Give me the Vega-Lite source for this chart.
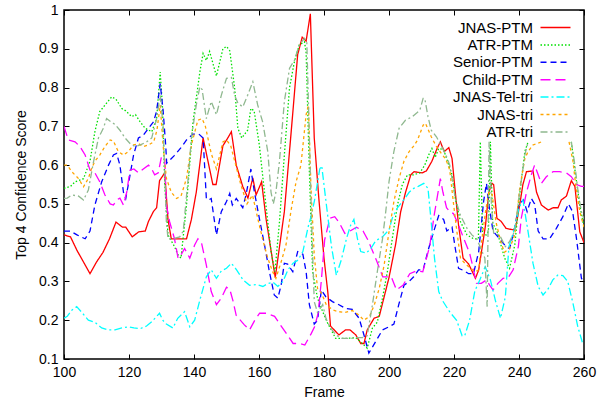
{
  "$schema": "https://vega.github.io/schema/vega-lite/v6.json",
  "width": 520,
  "height": 349,
  "autosize": "none",
  "padding": {"left": 64, "top": 10, "right": 14, "bottom": 45},
  "background": "white",
  "config": {
    "view": {"stroke": "black", "strokeWidth": 1.5},
    "font": "Liberation Sans",
    "axis": {"grid": false, "domain": false, "tickColor": "black", "tickSize": -5, "tickWidth": 1, "labelFlush": false, "labelOverlap": false, "labelFont": "Liberation Sans", "labelFontSize": 14, "labelColor": "black", "titleFont": "Liberation Sans", "titleFontSize": 14, "titleFontWeight": "normal", "titleColor": "black"}
  },
  "data": {"values": [
    {"s":"JNAS-PTM","f":100,"v":0.42},{"s":"JNAS-PTM","f":102,"v":0.415},{"s":"JNAS-PTM","f":104,"v":0.38},{"s":"JNAS-PTM","f":106,"v":0.35},{"s":"JNAS-PTM","f":108,"v":0.32},{"s":"JNAS-PTM","f":110,"v":0.35},{"s":"JNAS-PTM","f":112,"v":0.375},{"s":"JNAS-PTM","f":114,"v":0.41},{"s":"JNAS-PTM","f":116,"v":0.453},{"s":"JNAS-PTM","f":118,"v":0.44},{"s":"JNAS-PTM","f":119,"v":0.44},{"s":"JNAS-PTM","f":121,"v":0.415},{"s":"JNAS-PTM","f":123,"v":0.428},{"s":"JNAS-PTM","f":125,"v":0.43},{"s":"JNAS-PTM","f":126,"v":0.455},{"s":"JNAS-PTM","f":127.5,"v":0.48},{"s":"JNAS-PTM","f":128.5,"v":0.49},{"s":"JNAS-PTM","f":129.4,"v":0.56},{"s":"JNAS-PTM","f":131,"v":0.58},{"s":"JNAS-PTM","f":132,"v":0.46},{"s":"JNAS-PTM","f":133,"v":0.41},{"s":"JNAS-PTM","f":137.7,"v":0.41},{"s":"JNAS-PTM","f":139.2,"v":0.46},{"s":"JNAS-PTM","f":140.7,"v":0.53},{"s":"JNAS-PTM","f":142.8,"v":0.67},{"s":"JNAS-PTM","f":144.3,"v":0.61},{"s":"JNAS-PTM","f":145.8,"v":0.55},{"s":"JNAS-PTM","f":146.8,"v":0.55},{"s":"JNAS-PTM","f":148.9,"v":0.65},{"s":"JNAS-PTM","f":150.4,"v":0.67},{"s":"JNAS-PTM","f":151.5,"v":0.686},{"s":"JNAS-PTM","f":153,"v":0.6},{"s":"JNAS-PTM","f":155,"v":0.545},{"s":"JNAS-PTM","f":156.6,"v":0.515},{"s":"JNAS-PTM","f":158.1,"v":0.567},{"s":"JNAS-PTM","f":159.1,"v":0.523},{"s":"JNAS-PTM","f":160.8,"v":0.557},{"s":"JNAS-PTM","f":162.2,"v":0.46},{"s":"JNAS-PTM","f":165,"v":0.31},{"s":"JNAS-PTM","f":167.8,"v":0.48},{"s":"JNAS-PTM","f":170.3,"v":0.725},{"s":"JNAS-PTM","f":171.9,"v":0.885},{"s":"JNAS-PTM","f":173.3,"v":0.93},{"s":"JNAS-PTM","f":174.5,"v":0.92},{"s":"JNAS-PTM","f":175.8,"v":0.99},{"s":"JNAS-PTM","f":177,"v":0.67},{"s":"JNAS-PTM","f":178.4,"v":0.515},{"s":"JNAS-PTM","f":180,"v":0.36},{"s":"JNAS-PTM","f":181.2,"v":0.27},{"s":"JNAS-PTM","f":182,"v":0.185},{"s":"JNAS-PTM","f":184.6,"v":0.162},{"s":"JNAS-PTM","f":186.6,"v":0.175},{"s":"JNAS-PTM","f":188,"v":0.175},{"s":"JNAS-PTM","f":189.8,"v":0.162},{"s":"JNAS-PTM","f":191.3,"v":0.14},{"s":"JNAS-PTM","f":192.3,"v":0.14},{"s":"JNAS-PTM","f":193.3,"v":0.175},{"s":"JNAS-PTM","f":195.4,"v":0.205},{"s":"JNAS-PTM","f":197,"v":0.21},{"s":"JNAS-PTM","f":198.5,"v":0.26},{"s":"JNAS-PTM","f":200,"v":0.31},{"s":"JNAS-PTM","f":202,"v":0.394},{"s":"JNAS-PTM","f":203.6,"v":0.48},{"s":"JNAS-PTM","f":205.1,"v":0.53},{"s":"JNAS-PTM","f":206.7,"v":0.575},{"s":"JNAS-PTM","f":207.7,"v":0.583},{"s":"JNAS-PTM","f":210.2,"v":0.58},{"s":"JNAS-PTM","f":211.5,"v":0.585},{"s":"JNAS-PTM","f":213.2,"v":0.61},{"s":"JNAS-PTM","f":214.8,"v":0.643},{"s":"JNAS-PTM","f":215.8,"v":0.66},{"s":"JNAS-PTM","f":217,"v":0.635},{"s":"JNAS-PTM","f":218.4,"v":0.645},{"s":"JNAS-PTM","f":219.4,"v":0.617},{"s":"JNAS-PTM","f":220.4,"v":0.53},{"s":"JNAS-PTM","f":221.4,"v":0.445},{"s":"JNAS-PTM","f":222.8,"v":0.36},{"s":"JNAS-PTM","f":224.5,"v":0.345},{"s":"JNAS-PTM","f":226.6,"v":0.308},{"s":"JNAS-PTM","f":227.6,"v":0.33},{"s":"JNAS-PTM","f":229.7,"v":0.445},{"s":"JNAS-PTM","f":230.7,"v":0.53},{"s":"JNAS-PTM","f":231.7,"v":0.553},{"s":"JNAS-PTM","f":232.2,"v":0.55},{"s":"JNAS-PTM","f":233.2,"v":0.463},{"s":"JNAS-PTM","f":234.5,"v":0.455},{"s":"JNAS-PTM","f":236,"v":0.437},{"s":"JNAS-PTM","f":238.2,"v":0.433},{"s":"JNAS-PTM","f":239,"v":0.44},{"s":"JNAS-PTM","f":240.2,"v":0.497},{"s":"JNAS-PTM","f":241.2,"v":0.55},{"s":"JNAS-PTM","f":242.3,"v":0.583},{"s":"JNAS-PTM","f":244.3,"v":0.585},{"s":"JNAS-PTM","f":245.4,"v":0.53},{"s":"JNAS-PTM","f":246.9,"v":0.497},{"s":"JNAS-PTM","f":249,"v":0.484},{"s":"JNAS-PTM","f":250.5,"v":0.49},{"s":"JNAS-PTM","f":252,"v":0.49},{"s":"JNAS-PTM","f":253,"v":0.51},{"s":"JNAS-PTM","f":254.6,"v":0.52},{"s":"JNAS-PTM","f":256.1,"v":0.56},{"s":"JNAS-PTM","f":257.2,"v":0.545},{"s":"JNAS-PTM","f":258.7,"v":0.428},{"s":"JNAS-PTM","f":260,"v":0.4},

    {"s":"ATR-PTM","f":100,"v":0.54},{"s":"ATR-PTM","f":102,"v":0.545},{"s":"ATR-PTM","f":103.4,"v":0.557},{"s":"ATR-PTM","f":106,"v":0.565},{"s":"ATR-PTM","f":108,"v":0.61},{"s":"ATR-PTM","f":109.5,"v":0.686},{"s":"ATR-PTM","f":111,"v":0.738},{"s":"ATR-PTM","f":113.1,"v":0.76},{"s":"ATR-PTM","f":114.7,"v":0.776},{"s":"ATR-PTM","f":116,"v":0.77},{"s":"ATR-PTM","f":117.8,"v":0.746},{"s":"ATR-PTM","f":119,"v":0.74},{"s":"ATR-PTM","f":120.8,"v":0.725},{"s":"ATR-PTM","f":122,"v":0.73},{"s":"ATR-PTM","f":123.4,"v":0.712},{"s":"ATR-PTM","f":125,"v":0.695},{"s":"ATR-PTM","f":127,"v":0.686},{"s":"ATR-PTM","f":128.5,"v":0.72},{"s":"ATR-PTM","f":129.6,"v":0.84},{"s":"ATR-PTM","f":130.3,"v":0.75},{"s":"ATR-PTM","f":131,"v":0.55},{"s":"ATR-PTM","f":132,"v":0.42},{"s":"ATR-PTM","f":134,"v":0.39},{"s":"ATR-PTM","f":135,"v":0.37},{"s":"ATR-PTM","f":136,"v":0.36},{"s":"ATR-PTM","f":137.7,"v":0.497},{"s":"ATR-PTM","f":139.7,"v":0.712},{"s":"ATR-PTM","f":141.8,"v":0.84},{"s":"ATR-PTM","f":142.8,"v":0.888},{"s":"ATR-PTM","f":143.8,"v":0.87},{"s":"ATR-PTM","f":144.8,"v":0.893},{"s":"ATR-PTM","f":146.9,"v":0.83},{"s":"ATR-PTM","f":148.9,"v":0.9},{"s":"ATR-PTM","f":150,"v":0.906},{"s":"ATR-PTM","f":151,"v":0.895},{"s":"ATR-PTM","f":152.5,"v":0.8},{"s":"ATR-PTM","f":153.5,"v":0.695},{"s":"ATR-PTM","f":154.7,"v":0.67},{"s":"ATR-PTM","f":156.5,"v":0.69},{"s":"ATR-PTM","f":157.5,"v":0.746},{"s":"ATR-PTM","f":158.5,"v":0.74},{"s":"ATR-PTM","f":160.1,"v":0.652},{"s":"ATR-PTM","f":161.1,"v":0.575},{"s":"ATR-PTM","f":162.7,"v":0.454},{"s":"ATR-PTM","f":163.7,"v":0.377},{"s":"ATR-PTM","f":164.9,"v":0.325},{"s":"ATR-PTM","f":166.3,"v":0.454},{"s":"ATR-PTM","f":167.8,"v":0.626},{"s":"ATR-PTM","f":169.4,"v":0.8},{"s":"ATR-PTM","f":170.9,"v":0.867},{"s":"ATR-PTM","f":172.4,"v":0.91},{"s":"ATR-PTM","f":174,"v":0.918},{"s":"ATR-PTM","f":174.5,"v":0.89},{"s":"ATR-PTM","f":175.5,"v":0.583},{"s":"ATR-PTM","f":176.5,"v":0.325},{"s":"ATR-PTM","f":178,"v":0.257},{"s":"ATR-PTM","f":179.6,"v":0.222},{"s":"ATR-PTM","f":181.1,"v":0.193},{"s":"ATR-PTM","f":183.6,"v":0.153},{"s":"ATR-PTM","f":186.7,"v":0.153},{"s":"ATR-PTM","f":189.8,"v":0.155},{"s":"ATR-PTM","f":191.8,"v":0.14},{"s":"ATR-PTM","f":193.3,"v":0.128},{"s":"ATR-PTM","f":194.9,"v":0.18},{"s":"ATR-PTM","f":196.4,"v":0.195},{"s":"ATR-PTM","f":198,"v":0.257},{"s":"ATR-PTM","f":199.5,"v":0.325},{"s":"ATR-PTM","f":201,"v":0.41},{"s":"ATR-PTM","f":202.6,"v":0.497},{"s":"ATR-PTM","f":204.1,"v":0.55},{"s":"ATR-PTM","f":205.7,"v":0.575},{"s":"ATR-PTM","f":207.6,"v":0.575},{"s":"ATR-PTM","f":209.5,"v":0.58},{"s":"ATR-PTM","f":211,"v":0.6},{"s":"ATR-PTM","f":212.2,"v":0.626},{"s":"ATR-PTM","f":213.2,"v":0.643},{"s":"ATR-PTM","f":214.2,"v":0.62},{"s":"ATR-PTM","f":215.3,"v":0.643},{"s":"ATR-PTM","f":216.8,"v":0.64},{"s":"ATR-PTM","f":218.4,"v":0.6},{"s":"ATR-PTM","f":219.4,"v":0.575},{"s":"ATR-PTM","f":220.4,"v":0.514},{"s":"ATR-PTM","f":222,"v":0.454},{"s":"ATR-PTM","f":224,"v":0.42},{"s":"ATR-PTM","f":226,"v":0.41},{"s":"ATR-PTM","f":227.5,"v":0.41},{"s":"ATR-PTM","f":228.1,"v":0.66},{"s":"ATR-PTM","f":228.8,"v":0.42},{"s":"ATR-PTM","f":230,"v":0.42},{"s":"ATR-PTM","f":230.6,"v":0.43},{"s":"ATR-PTM","f":231.2,"v":0.66},{"s":"ATR-PTM","f":231.9,"v":0.45},{"s":"ATR-PTM","f":233.2,"v":0.43},{"s":"ATR-PTM","f":234,"v":0.407},{"s":"ATR-PTM","f":235.6,"v":0.36},{"s":"ATR-PTM","f":237.1,"v":0.334},{"s":"ATR-PTM","f":238.7,"v":0.394},{"s":"ATR-PTM","f":240.2,"v":0.523},{"s":"ATR-PTM","f":241.8,"v":0.635},{"s":"ATR-PTM","f":242.8,"v":0.66},{"s":"ATR-PTM","f":249,"v":null},{"s":"ATR-PTM","f":256.1,"v":0.66},{"s":"ATR-PTM","f":257,"v":0.6},{"s":"ATR-PTM","f":258.7,"v":0.497},{"s":"ATR-PTM","f":260,"v":0.44},

    {"s":"Senior-PTM","f":100,"v":0.43},{"s":"Senior-PTM","f":102,"v":0.43},{"s":"Senior-PTM","f":104,"v":0.42},{"s":"Senior-PTM","f":106.5,"v":0.41},{"s":"Senior-PTM","f":108,"v":0.43},{"s":"Senior-PTM","f":109.5,"v":0.497},{"s":"Senior-PTM","f":111.6,"v":0.557},{"s":"Senior-PTM","f":113.7,"v":0.6},{"s":"Senior-PTM","f":115.2,"v":0.626},{"s":"Senior-PTM","f":116.2,"v":0.63},{"s":"Senior-PTM","f":117.2,"v":0.6},{"s":"Senior-PTM","f":118.3,"v":0.53},{"s":"Senior-PTM","f":119,"v":0.514},{"s":"Senior-PTM","f":119.8,"v":0.55},{"s":"Senior-PTM","f":121.4,"v":0.626},{"s":"Senior-PTM","f":122.9,"v":0.67},{"s":"Senior-PTM","f":124.4,"v":0.677},{"s":"Senior-PTM","f":126,"v":0.695},{"s":"Senior-PTM","f":127.6,"v":0.712},{"s":"Senior-PTM","f":128.5,"v":0.74},{"s":"Senior-PTM","f":129.6,"v":0.81},{"s":"Senior-PTM","f":130.5,"v":0.74},{"s":"Senior-PTM","f":131.3,"v":0.65},{"s":"Senior-PTM","f":131.6,"v":0.605},{"s":"Senior-PTM","f":134,"v":0.625},{"s":"Senior-PTM","f":136,"v":0.645},{"s":"Senior-PTM","f":137.7,"v":0.665},{"s":"Senior-PTM","f":139.7,"v":0.68},{"s":"Senior-PTM","f":141.5,"v":0.68},{"s":"Senior-PTM","f":142.8,"v":0.67},{"s":"Senior-PTM","f":143.8,"v":0.514},{"s":"Senior-PTM","f":144.5,"v":0.51},{"s":"Senior-PTM","f":145.3,"v":0.514},{"s":"Senior-PTM","f":146.9,"v":0.42},{"s":"Senior-PTM","f":148.4,"v":0.48},{"s":"Senior-PTM","f":150,"v":0.506},{"s":"Senior-PTM","f":151,"v":0.527},{"s":"Senior-PTM","f":151.8,"v":0.497},{"s":"Senior-PTM","f":153,"v":0.514},{"s":"Senior-PTM","f":155,"v":0.49},{"s":"Senior-PTM","f":156,"v":0.523},{"s":"Senior-PTM","f":157.5,"v":0.59},{"s":"Senior-PTM","f":158.6,"v":0.53},{"s":"Senior-PTM","f":160.1,"v":0.463},{"s":"Senior-PTM","f":161.7,"v":0.394},{"s":"Senior-PTM","f":163.2,"v":0.325},{"s":"Senior-PTM","f":164.7,"v":0.265},{"s":"Senior-PTM","f":165.8,"v":0.257},{"s":"Senior-PTM","f":166.8,"v":0.29},{"s":"Senior-PTM","f":167.8,"v":0.347},{"s":"Senior-PTM","f":168.8,"v":0.345},{"s":"Senior-PTM","f":170.4,"v":0.325},{"s":"Senior-PTM","f":171.9,"v":0.377},{"s":"Senior-PTM","f":173.5,"v":0.37},{"s":"Senior-PTM","f":174.5,"v":0.325},{"s":"Senior-PTM","f":175.5,"v":0.24},{"s":"Senior-PTM","f":177,"v":0.19},{"s":"Senior-PTM","f":178,"v":0.2},{"s":"Senior-PTM","f":179.2,"v":0.278},{"s":"Senior-PTM","f":180.6,"v":0.26},{"s":"Senior-PTM","f":182.6,"v":0.248},{"s":"Senior-PTM","f":184.6,"v":0.24},{"s":"Senior-PTM","f":186.7,"v":0.23},{"s":"Senior-PTM","f":188.7,"v":0.228},{"s":"Senior-PTM","f":190.8,"v":0.205},{"s":"Senior-PTM","f":192.3,"v":0.162},{"s":"Senior-PTM","f":193.8,"v":0.115},{"s":"Senior-PTM","f":195.9,"v":0.145},{"s":"Senior-PTM","f":198,"v":0.175},{"s":"Senior-PTM","f":200,"v":0.183},{"s":"Senior-PTM","f":201.5,"v":0.19},{"s":"Senior-PTM","f":203,"v":0.24},{"s":"Senior-PTM","f":204.6,"v":0.29},{"s":"Senior-PTM","f":206.2,"v":0.3},{"s":"Senior-PTM","f":207.6,"v":0.312},{"s":"Senior-PTM","f":209.1,"v":0.33},{"s":"Senior-PTM","f":210.5,"v":0.33},{"s":"Senior-PTM","f":212.2,"v":0.385},{"s":"Senior-PTM","f":213.8,"v":0.43},{"s":"Senior-PTM","f":215.3,"v":0.47},{"s":"Senior-PTM","f":216.8,"v":0.46},{"s":"Senior-PTM","f":217.8,"v":0.43},{"s":"Senior-PTM","f":219.4,"v":0.44},{"s":"Senior-PTM","f":220.4,"v":0.385},{"s":"Senior-PTM","f":221.4,"v":0.334},{"s":"Senior-PTM","f":223,"v":0.328},{"s":"Senior-PTM","f":224.5,"v":0.32},{"s":"Senior-PTM","f":226,"v":0.32},{"s":"Senior-PTM","f":227.6,"v":0.377},{"s":"Senior-PTM","f":229.1,"v":0.506},{"s":"Senior-PTM","f":230,"v":0.553},{"s":"Senior-PTM","f":230.7,"v":0.5},{"s":"Senior-PTM","f":232,"v":0.43},{"s":"Senior-PTM","f":234,"v":0.41},{"s":"Senior-PTM","f":236,"v":0.39},{"s":"Senior-PTM","f":237.1,"v":0.385},{"s":"Senior-PTM","f":238.5,"v":0.43},{"s":"Senior-PTM","f":240,"v":0.5},{"s":"Senior-PTM","f":241.4,"v":0.51},{"s":"Senior-PTM","f":242.5,"v":0.48},{"s":"Senior-PTM","f":243.8,"v":0.514},{"s":"Senior-PTM","f":244.8,"v":0.5},{"s":"Senior-PTM","f":245.9,"v":0.43},{"s":"Senior-PTM","f":247.4,"v":0.41},{"s":"Senior-PTM","f":249.4,"v":0.41},{"s":"Senior-PTM","f":251.5,"v":0.437},{"s":"Senior-PTM","f":253.5,"v":0.467},{"s":"Senior-PTM","f":255.2,"v":0.5},{"s":"Senior-PTM","f":256.5,"v":0.48},{"s":"Senior-PTM","f":257.7,"v":0.41},{"s":"Senior-PTM","f":259.2,"v":0.308},{"s":"Senior-PTM","f":260,"v":0.3},

    {"s":"Child-PTM","f":100,"v":0.7},{"s":"Child-PTM","f":101.3,"v":0.665},{"s":"Child-PTM","f":103.4,"v":0.66},{"s":"Child-PTM","f":104.9,"v":0.648},{"s":"Child-PTM","f":106.5,"v":0.626},{"s":"Child-PTM","f":108,"v":0.587},{"s":"Child-PTM","f":109.5,"v":0.58},{"s":"Child-PTM","f":111,"v":0.557},{"s":"Child-PTM","f":112.6,"v":0.523},{"s":"Child-PTM","f":114.2,"v":0.5},{"s":"Child-PTM","f":115.2,"v":0.497},{"s":"Child-PTM","f":116.2,"v":0.51},{"s":"Child-PTM","f":117.2,"v":0.515},{"s":"Child-PTM","f":118.3,"v":0.497},{"s":"Child-PTM","f":119.3,"v":0.53},{"s":"Child-PTM","f":120.3,"v":0.587},{"s":"Child-PTM","f":121.5,"v":0.59},{"s":"Child-PTM","f":122.9,"v":0.58},{"s":"Child-PTM","f":124.4,"v":0.59},{"s":"Child-PTM","f":126,"v":0.6},{"s":"Child-PTM","f":127,"v":0.59},{"s":"Child-PTM","f":127.9,"v":0.575},{"s":"Child-PTM","f":129,"v":0.58},{"s":"Child-PTM","f":130,"v":0.622},{"s":"Child-PTM","f":131,"v":0.615},{"s":"Child-PTM","f":131.5,"v":0.497},{"s":"Child-PTM","f":132.5,"v":0.454},{"s":"Child-PTM","f":134,"v":0.41},{"s":"Child-PTM","f":135.1,"v":0.36},{"s":"Child-PTM","f":136.1,"v":0.37},{"s":"Child-PTM","f":137.1,"v":0.385},{"s":"Child-PTM","f":138.7,"v":0.36},{"s":"Child-PTM","f":140.2,"v":0.394},{"s":"Child-PTM","f":141.2,"v":0.41},{"s":"Child-PTM","f":142.3,"v":0.4},{"s":"Child-PTM","f":143.8,"v":0.342},{"s":"Child-PTM","f":145.3,"v":0.274},{"s":"Child-PTM","f":146.9,"v":0.24},{"s":"Child-PTM","f":148.4,"v":0.257},{"s":"Child-PTM","f":150,"v":0.285},{"s":"Child-PTM","f":151,"v":0.28},{"s":"Child-PTM","f":152,"v":0.25},{"s":"Child-PTM","f":153,"v":0.212},{"s":"Child-PTM","f":155.5,"v":0.188},{"s":"Child-PTM","f":157.1,"v":0.175},{"s":"Child-PTM","f":158.7,"v":0.2},{"s":"Child-PTM","f":160.2,"v":0.218},{"s":"Child-PTM","f":162.2,"v":0.218},{"s":"Child-PTM","f":164.8,"v":0.21},{"s":"Child-PTM","f":166.4,"v":0.19},{"s":"Child-PTM","f":168.4,"v":0.166},{"s":"Child-PTM","f":170.5,"v":0.14},{"s":"Child-PTM","f":172.5,"v":0.14},{"s":"Child-PTM","f":174.1,"v":0.136},{"s":"Child-PTM","f":176.1,"v":0.166},{"s":"Child-PTM","f":177.1,"v":0.183},{"s":"Child-PTM","f":178.2,"v":0.218},{"s":"Child-PTM","f":179.2,"v":0.304},{"s":"Child-PTM","f":180.2,"v":0.407},{"s":"Child-PTM","f":181.8,"v":0.463},{"s":"Child-PTM","f":183.3,"v":0.467},{"s":"Child-PTM","f":184.8,"v":0.45},{"s":"Child-PTM","f":186.4,"v":0.424},{"s":"Child-PTM","f":188,"v":0.43},{"s":"Child-PTM","f":190,"v":0.44},{"s":"Child-PTM","f":192,"v":0.43},{"s":"Child-PTM","f":193.5,"v":0.407},{"s":"Child-PTM","f":196.1,"v":0.355},{"s":"Child-PTM","f":198.1,"v":0.312},{"s":"Child-PTM","f":200.7,"v":0.312},{"s":"Child-PTM","f":202.3,"v":0.278},{"s":"Child-PTM","f":204.3,"v":0.29},{"s":"Child-PTM","f":206.4,"v":0.32},{"s":"Child-PTM","f":208.4,"v":0.327},{"s":"Child-PTM","f":210.4,"v":0.325},{"s":"Child-PTM","f":212.5,"v":0.39},{"s":"Child-PTM","f":214,"v":0.476},{"s":"Child-PTM","f":215.8,"v":0.565},{"s":"Child-PTM","f":216.6,"v":0.53},{"s":"Child-PTM","f":217.7,"v":0.49},{"s":"Child-PTM","f":218.7,"v":0.48},{"s":"Child-PTM","f":219.8,"v":0.475},{"s":"Child-PTM","f":221.2,"v":0.45},{"s":"Child-PTM","f":222.8,"v":0.415},{"s":"Child-PTM","f":224.8,"v":0.373},{"s":"Child-PTM","f":225.8,"v":0.338},{"s":"Child-PTM","f":226.9,"v":0.295},{"s":"Child-PTM","f":228.4,"v":0.295},{"s":"Child-PTM","f":230,"v":0.304},{"s":"Child-PTM","f":231,"v":0.29},{"s":"Child-PTM","f":232,"v":0.278},{"s":"Child-PTM","f":233.5,"v":0.295},{"s":"Child-PTM","f":235.1,"v":0.308},{"s":"Child-PTM","f":236.7,"v":0.31},{"s":"Child-PTM","f":238.2,"v":0.33},{"s":"Child-PTM","f":239.8,"v":0.39},{"s":"Child-PTM","f":240.7,"v":0.463},{"s":"Child-PTM","f":242.3,"v":0.53},{"s":"Child-PTM","f":243.8,"v":0.575},{"s":"Child-PTM","f":244.8,"v":0.6},{"s":"Child-PTM","f":245.9,"v":0.575},{"s":"Child-PTM","f":246.9,"v":0.553},{"s":"Child-PTM","f":248.4,"v":0.57},{"s":"Child-PTM","f":250.5,"v":0.583},{"s":"Child-PTM","f":252.5,"v":0.583},{"s":"Child-PTM","f":254.6,"v":0.58},{"s":"Child-PTM","f":256.1,"v":0.57},{"s":"Child-PTM","f":257.7,"v":0.55},{"s":"Child-PTM","f":259.2,"v":0.545},{"s":"Child-PTM","f":260,"v":0.545},

    {"s":"JNAS-Tel-tri","f":100,"v":0.205},{"s":"JNAS-Tel-tri","f":101,"v":0.21},{"s":"JNAS-Tel-tri","f":102.4,"v":0.226},{"s":"JNAS-Tel-tri","f":103.9,"v":0.235},{"s":"JNAS-Tel-tri","f":105.5,"v":0.22},{"s":"JNAS-Tel-tri","f":107.5,"v":0.2},{"s":"JNAS-Tel-tri","f":109.5,"v":0.195},{"s":"JNAS-Tel-tri","f":111.6,"v":0.18},{"s":"JNAS-Tel-tri","f":113.7,"v":0.175},{"s":"JNAS-Tel-tri","f":115.7,"v":0.175},{"s":"JNAS-Tel-tri","f":117.8,"v":0.18},{"s":"JNAS-Tel-tri","f":119.8,"v":0.183},{"s":"JNAS-Tel-tri","f":121.5,"v":0.18},{"s":"JNAS-Tel-tri","f":123.4,"v":0.178},{"s":"JNAS-Tel-tri","f":125.4,"v":0.185},{"s":"JNAS-Tel-tri","f":127,"v":0.196},{"s":"JNAS-Tel-tri","f":129.4,"v":0.218},{"s":"JNAS-Tel-tri","f":130.4,"v":0.2},{"s":"JNAS-Tel-tri","f":131.5,"v":0.19},{"s":"JNAS-Tel-tri","f":133.5,"v":0.18},{"s":"JNAS-Tel-tri","f":135,"v":0.205},{"s":"JNAS-Tel-tri","f":137.1,"v":0.222},{"s":"JNAS-Tel-tri","f":138.7,"v":0.183},{"s":"JNAS-Tel-tri","f":140.2,"v":0.2},{"s":"JNAS-Tel-tri","f":141.8,"v":0.252},{"s":"JNAS-Tel-tri","f":143.8,"v":0.312},{"s":"JNAS-Tel-tri","f":145.3,"v":0.33},{"s":"JNAS-Tel-tri","f":146.9,"v":0.308},{"s":"JNAS-Tel-tri","f":148.4,"v":0.327},{"s":"JNAS-Tel-tri","f":150,"v":0.334},{"s":"JNAS-Tel-tri","f":151.5,"v":0.347},{"s":"JNAS-Tel-tri","f":153.1,"v":0.33},{"s":"JNAS-Tel-tri","f":155.1,"v":0.304},{"s":"JNAS-Tel-tri","f":157.1,"v":0.29},{"s":"JNAS-Tel-tri","f":159.2,"v":0.292},{"s":"JNAS-Tel-tri","f":161.2,"v":0.287},{"s":"JNAS-Tel-tri","f":162.8,"v":0.295},{"s":"JNAS-Tel-tri","f":164.3,"v":0.298},{"s":"JNAS-Tel-tri","f":165.8,"v":0.287},{"s":"JNAS-Tel-tri","f":167.4,"v":0.3},{"s":"JNAS-Tel-tri","f":168.9,"v":0.33},{"s":"JNAS-Tel-tri","f":170.5,"v":0.347},{"s":"JNAS-Tel-tri","f":172,"v":0.355},{"s":"JNAS-Tel-tri","f":173.5,"v":0.377},{"s":"JNAS-Tel-tri","f":175.1,"v":0.44},{"s":"JNAS-Tel-tri","f":176.1,"v":0.47},{"s":"JNAS-Tel-tri","f":177.1,"v":0.51},{"s":"JNAS-Tel-tri","f":178.7,"v":0.59},{"s":"JNAS-Tel-tri","f":179.3,"v":0.598},{"s":"JNAS-Tel-tri","f":180.7,"v":0.5},{"s":"JNAS-Tel-tri","f":182.3,"v":0.39},{"s":"JNAS-Tel-tri","f":183.8,"v":0.316},{"s":"JNAS-Tel-tri","f":185.3,"v":0.355},{"s":"JNAS-Tel-tri","f":186.9,"v":0.41},{"s":"JNAS-Tel-tri","f":188.2,"v":0.445},{"s":"JNAS-Tel-tri","f":189.2,"v":0.46},{"s":"JNAS-Tel-tri","f":190.3,"v":0.41},{"s":"JNAS-Tel-tri","f":191.3,"v":0.377},{"s":"JNAS-Tel-tri","f":193,"v":0.373},{"s":"JNAS-Tel-tri","f":194.4,"v":0.385},{"s":"JNAS-Tel-tri","f":195.9,"v":0.405},{"s":"JNAS-Tel-tri","f":198,"v":0.415},{"s":"JNAS-Tel-tri","f":200,"v":0.433},{"s":"JNAS-Tel-tri","f":201,"v":0.463},{"s":"JNAS-Tel-tri","f":202.6,"v":0.49},{"s":"JNAS-Tel-tri","f":204.5,"v":0.51},{"s":"JNAS-Tel-tri","f":206.2,"v":0.53},{"s":"JNAS-Tel-tri","f":207.6,"v":0.54},{"s":"JNAS-Tel-tri","f":209,"v":0.545},{"s":"JNAS-Tel-tri","f":210.7,"v":0.553},{"s":"JNAS-Tel-tri","f":212,"v":0.54},{"s":"JNAS-Tel-tri","f":212.8,"v":0.47},{"s":"JNAS-Tel-tri","f":214,"v":0.36},{"s":"JNAS-Tel-tri","f":215.3,"v":0.274},{"s":"JNAS-Tel-tri","f":216.5,"v":0.25},{"s":"JNAS-Tel-tri","f":218.8,"v":0.22},{"s":"JNAS-Tel-tri","f":220.8,"v":0.2},{"s":"JNAS-Tel-tri","f":222.5,"v":0.16},{"s":"JNAS-Tel-tri","f":223.3,"v":0.16},{"s":"JNAS-Tel-tri","f":224.8,"v":0.2},{"s":"JNAS-Tel-tri","f":226.4,"v":0.275},{"s":"JNAS-Tel-tri","f":228,"v":0.305},{"s":"JNAS-Tel-tri","f":229.6,"v":0.338},{"s":"JNAS-Tel-tri","f":231.2,"v":0.304},{"s":"JNAS-Tel-tri","f":232.7,"v":0.252},{"s":"JNAS-Tel-tri","f":234.3,"v":0.205},{"s":"JNAS-Tel-tri","f":235.8,"v":0.26},{"s":"JNAS-Tel-tri","f":236.9,"v":0.39},{"s":"JNAS-Tel-tri","f":238.5,"v":0.433},{"s":"JNAS-Tel-tri","f":240,"v":0.49},{"s":"JNAS-Tel-tri","f":241.2,"v":0.51},{"s":"JNAS-Tel-tri","f":242.7,"v":0.433},{"s":"JNAS-Tel-tri","f":244.3,"v":0.347},{"s":"JNAS-Tel-tri","f":245.9,"v":0.287},{"s":"JNAS-Tel-tri","f":247.4,"v":0.265},{"s":"JNAS-Tel-tri","f":248.9,"v":0.28},{"s":"JNAS-Tel-tri","f":250.4,"v":0.304},{"s":"JNAS-Tel-tri","f":252,"v":0.317},{"s":"JNAS-Tel-tri","f":253.5,"v":0.315},{"s":"JNAS-Tel-tri","f":255,"v":0.3},{"s":"JNAS-Tel-tri","f":256.6,"v":0.244},{"s":"JNAS-Tel-tri","f":258.1,"v":0.183},{"s":"JNAS-Tel-tri","f":259.6,"v":0.14},{"s":"JNAS-Tel-tri","f":260,"v":0.14},

    {"s":"JNAS-tri","f":100,"v":0.6},{"s":"JNAS-tri","f":101,"v":0.6},{"s":"JNAS-tri","f":102.4,"v":0.583},{"s":"JNAS-tri","f":104.4,"v":0.566},{"s":"JNAS-tri","f":106,"v":0.544},{"s":"JNAS-tri","f":107.5,"v":0.566},{"s":"JNAS-tri","f":108.5,"v":0.592},{"s":"JNAS-tri","f":109.5,"v":0.61},{"s":"JNAS-tri","f":111,"v":0.626},{"s":"JNAS-tri","f":112.6,"v":0.648},{"s":"JNAS-tri","f":114.2,"v":0.665},{"s":"JNAS-tri","f":115.2,"v":0.662},{"s":"JNAS-tri","f":116.7,"v":0.635},{"s":"JNAS-tri","f":118.3,"v":0.626},{"s":"JNAS-tri","f":119.8,"v":0.635},{"s":"JNAS-tri","f":121.4,"v":0.652},{"s":"JNAS-tri","f":123,"v":0.655},{"s":"JNAS-tri","f":124.4,"v":0.648},{"s":"JNAS-tri","f":126,"v":0.652},{"s":"JNAS-tri","f":127.6,"v":0.66},{"s":"JNAS-tri","f":128.6,"v":0.69},{"s":"JNAS-tri","f":129.6,"v":0.755},{"s":"JNAS-tri","f":130.5,"v":0.65},{"s":"JNAS-tri","f":131.5,"v":0.566},{"s":"JNAS-tri","f":133,"v":0.53},{"s":"JNAS-tri","f":134.6,"v":0.514},{"s":"JNAS-tri","f":136,"v":0.52},{"s":"JNAS-tri","f":137.7,"v":0.566},{"s":"JNAS-tri","f":139.2,"v":0.652},{"s":"JNAS-tri","f":141.2,"v":0.716},{"s":"JNAS-tri","f":142.5,"v":0.72},{"s":"JNAS-tri","f":143.5,"v":0.7},{"s":"JNAS-tri","f":145.3,"v":0.63},{"s":"JNAS-tri","f":146.9,"v":0.59},{"s":"JNAS-tri","f":148.9,"v":0.66},{"s":"JNAS-tri","f":150,"v":0.665},{"s":"JNAS-tri","f":151.3,"v":0.65},{"s":"JNAS-tri","f":153,"v":0.595},{"s":"JNAS-tri","f":154.4,"v":0.55},{"s":"JNAS-tri","f":156.3,"v":0.5},{"s":"JNAS-tri","f":158,"v":0.523},{"s":"JNAS-tri","f":159.6,"v":0.463},{"s":"JNAS-tri","f":161.1,"v":0.41},{"s":"JNAS-tri","f":162.7,"v":0.36},{"s":"JNAS-tri","f":164.2,"v":0.325},{"s":"JNAS-tri","f":165.2,"v":0.308},{"s":"JNAS-tri","f":166.8,"v":0.35},{"s":"JNAS-tri","f":168.3,"v":0.394},{"s":"JNAS-tri","f":169.8,"v":0.48},{"s":"JNAS-tri","f":171.4,"v":0.557},{"s":"JNAS-tri","f":172.9,"v":0.6},{"s":"JNAS-tri","f":174.5,"v":0.73},{"s":"JNAS-tri","f":175.2,"v":0.755},{"s":"JNAS-tri","f":176,"v":0.54},{"s":"JNAS-tri","f":177,"v":0.368},{"s":"JNAS-tri","f":178,"v":0.282},{"s":"JNAS-tri","f":179.2,"v":0.27},{"s":"JNAS-tri","f":180.7,"v":0.24},{"s":"JNAS-tri","f":182.8,"v":0.226},{"s":"JNAS-tri","f":184.6,"v":0.222},{"s":"JNAS-tri","f":186.5,"v":0.22},{"s":"JNAS-tri","f":188.7,"v":0.225},{"s":"JNAS-tri","f":190.8,"v":0.213},{"s":"JNAS-tri","f":192.3,"v":0.2},{"s":"JNAS-tri","f":194,"v":0.21},{"s":"JNAS-tri","f":195.5,"v":0.24},{"s":"JNAS-tri","f":197,"v":0.282},{"s":"JNAS-tri","f":198.5,"v":0.342},{"s":"JNAS-tri","f":200,"v":0.428},{"s":"JNAS-tri","f":201.5,"v":0.506},{"s":"JNAS-tri","f":203.1,"v":0.566},{"s":"JNAS-tri","f":204.6,"v":0.61},{"s":"JNAS-tri","f":206.2,"v":0.635},{"s":"JNAS-tri","f":207.7,"v":0.65},{"s":"JNAS-tri","f":208.8,"v":0.665},{"s":"JNAS-tri","f":210.5,"v":0.703},{"s":"JNAS-tri","f":211.2,"v":0.708},{"s":"JNAS-tri","f":213,"v":0.673},{"s":"JNAS-tri","f":214.6,"v":0.648},{"s":"JNAS-tri","f":216.1,"v":0.63},{"s":"JNAS-tri","f":217.5,"v":0.615},{"s":"JNAS-tri","f":218.7,"v":0.587},{"s":"JNAS-tri","f":219.9,"v":0.497},{"s":"JNAS-tri","f":220.9,"v":0.428},{"s":"JNAS-tri","f":222,"v":0.36},{"s":"JNAS-tri","f":223,"v":0.35},{"s":"JNAS-tri","f":225,"v":0.334},{"s":"JNAS-tri","f":226.6,"v":0.325},{"s":"JNAS-tri","f":227.6,"v":0.33},{"s":"JNAS-tri","f":228.6,"v":0.41},{"s":"JNAS-tri","f":229.7,"v":0.48},{"s":"JNAS-tri","f":230.7,"v":0.53},{"s":"JNAS-tri","f":231.7,"v":0.525},{"s":"JNAS-tri","f":233,"v":0.45},{"s":"JNAS-tri","f":234.5,"v":0.4},{"s":"JNAS-tri","f":235.5,"v":0.375},{"s":"JNAS-tri","f":237.1,"v":0.385},{"s":"JNAS-tri","f":238.7,"v":0.42},{"s":"JNAS-tri","f":240.2,"v":0.54},{"s":"JNAS-tri","f":241.8,"v":0.617},{"s":"JNAS-tri","f":242.8,"v":0.635},{"s":"JNAS-tri","f":244.3,"v":0.652},{"s":"JNAS-tri","f":245.5,"v":0.655},{"s":"JNAS-tri","f":246.9,"v":0.66},{"s":"JNAS-tri","f":251,"v":null},{"s":"JNAS-tri","f":255.4,"v":0.66},{"s":"JNAS-tri","f":256.6,"v":0.61},{"s":"JNAS-tri","f":257.7,"v":0.53},{"s":"JNAS-tri","f":258.7,"v":0.48},{"s":"JNAS-tri","f":260,"v":0.44},

    {"s":"ATR-tri","f":100,"v":0.514},{"s":"ATR-tri","f":101,"v":0.515},{"s":"ATR-tri","f":102.4,"v":0.523},{"s":"ATR-tri","f":104.5,"v":0.52},{"s":"ATR-tri","f":106,"v":0.51},{"s":"ATR-tri","f":107.5,"v":0.536},{"s":"ATR-tri","f":109,"v":0.605},{"s":"ATR-tri","f":110.6,"v":0.67},{"s":"ATR-tri","f":112.1,"v":0.695},{"s":"ATR-tri","f":113.1,"v":0.72},{"s":"ATR-tri","f":114.7,"v":0.71},{"s":"ATR-tri","f":115.7,"v":0.705},{"s":"ATR-tri","f":117.2,"v":0.69},{"s":"ATR-tri","f":118.8,"v":0.67},{"s":"ATR-tri","f":120.3,"v":0.656},{"s":"ATR-tri","f":121.8,"v":0.648},{"s":"ATR-tri","f":123.5,"v":0.652},{"s":"ATR-tri","f":125.4,"v":0.66},{"s":"ATR-tri","f":127,"v":0.67},{"s":"ATR-tri","f":128.5,"v":0.72},{"s":"ATR-tri","f":129.6,"v":0.78},{"s":"ATR-tri","f":130.5,"v":0.7},{"s":"ATR-tri","f":131.5,"v":0.454},{"s":"ATR-tri","f":132,"v":0.41},{"s":"ATR-tri","f":133.5,"v":0.41},{"s":"ATR-tri","f":135.6,"v":0.415},{"s":"ATR-tri","f":136.7,"v":0.43},{"s":"ATR-tri","f":138.2,"v":0.566},{"s":"ATR-tri","f":139.2,"v":0.67},{"s":"ATR-tri","f":140.7,"v":0.755},{"s":"ATR-tri","f":141.8,"v":0.802},{"s":"ATR-tri","f":142.5,"v":0.795},{"s":"ATR-tri","f":143.8,"v":0.72},{"s":"ATR-tri","f":145.3,"v":0.764},{"s":"ATR-tri","f":146.9,"v":0.73},{"s":"ATR-tri","f":148.4,"v":0.78},{"s":"ATR-tri","f":150,"v":0.824},{"s":"ATR-tri","f":151.5,"v":0.826},{"s":"ATR-tri","f":152.5,"v":0.78},{"s":"ATR-tri","f":153.5,"v":0.76},{"s":"ATR-tri","f":155,"v":0.75},{"s":"ATR-tri","f":156.5,"v":0.78},{"s":"ATR-tri","f":158.1,"v":0.815},{"s":"ATR-tri","f":159.6,"v":0.755},{"s":"ATR-tri","f":161.1,"v":0.712},{"s":"ATR-tri","f":162.7,"v":0.635},{"s":"ATR-tri","f":163.7,"v":0.53},{"s":"ATR-tri","f":164.4,"v":0.5},{"s":"ATR-tri","f":165.2,"v":0.53},{"s":"ATR-tri","f":166.3,"v":0.61},{"s":"ATR-tri","f":167.8,"v":0.764},{"s":"ATR-tri","f":169.4,"v":0.85},{"s":"ATR-tri","f":170.9,"v":0.87},{"s":"ATR-tri","f":172.4,"v":0.91},{"s":"ATR-tri","f":174,"v":0.927},{"s":"ATR-tri","f":174.7,"v":0.92},{"s":"ATR-tri","f":175.5,"v":0.67},{"s":"ATR-tri","f":176.2,"v":0.45},{"s":"ATR-tri","f":177,"v":0.248},{"s":"ATR-tri","f":178,"v":0.22},{"s":"ATR-tri","f":179.6,"v":0.24},{"s":"ATR-tri","f":180.6,"v":0.205},{"s":"ATR-tri","f":181.8,"v":0.183},{"s":"ATR-tri","f":183.6,"v":0.162},{"s":"ATR-tri","f":185.6,"v":0.153},{"s":"ATR-tri","f":188,"v":0.153},{"s":"ATR-tri","f":190,"v":0.155},{"s":"ATR-tri","f":191.8,"v":0.155},{"s":"ATR-tri","f":193.3,"v":0.16},{"s":"ATR-tri","f":194.9,"v":0.24},{"s":"ATR-tri","f":196.4,"v":0.325},{"s":"ATR-tri","f":198,"v":0.41},{"s":"ATR-tri","f":199,"v":0.48},{"s":"ATR-tri","f":200,"v":0.557},{"s":"ATR-tri","f":201.5,"v":0.635},{"s":"ATR-tri","f":203.1,"v":0.695},{"s":"ATR-tri","f":205.1,"v":0.716},{"s":"ATR-tri","f":207.2,"v":0.725},{"s":"ATR-tri","f":208.6,"v":0.735},{"s":"ATR-tri","f":209.5,"v":0.742},{"s":"ATR-tri","f":210.5,"v":0.772},{"s":"ATR-tri","f":211,"v":0.772},{"s":"ATR-tri","f":212,"v":0.725},{"s":"ATR-tri","f":213,"v":0.69},{"s":"ATR-tri","f":214.6,"v":0.673},{"s":"ATR-tri","f":216.1,"v":0.65},{"s":"ATR-tri","f":217.7,"v":0.622},{"s":"ATR-tri","f":218.7,"v":0.6},{"s":"ATR-tri","f":219.4,"v":0.566},{"s":"ATR-tri","f":220.4,"v":0.514},{"s":"ATR-tri","f":222,"v":0.47},{"s":"ATR-tri","f":224,"v":0.437},{"s":"ATR-tri","f":225.5,"v":0.42},{"s":"ATR-tri","f":227,"v":0.41},{"s":"ATR-tri","f":228.5,"v":0.38},{"s":"ATR-tri","f":229.5,"v":0.36},{"s":"ATR-tri","f":230.2,"v":0.235},{"s":"ATR-tri","f":230.8,"v":0.66},{"s":"ATR-tri","f":231.5,"v":0.5},{"s":"ATR-tri","f":232.2,"v":0.424},{"s":"ATR-tri","f":234,"v":0.42},{"s":"ATR-tri","f":235.8,"v":0.39},{"s":"ATR-tri","f":237.1,"v":0.403},{"s":"ATR-tri","f":238.7,"v":0.43},{"s":"ATR-tri","f":240.2,"v":0.53},{"s":"ATR-tri","f":241.8,"v":0.626},{"s":"ATR-tri","f":242.8,"v":0.66},{"s":"ATR-tri","f":249,"v":null},{"s":"ATR-tri","f":256.1,"v":0.66},{"s":"ATR-tri","f":257.2,"v":0.6},{"s":"ATR-tri","f":258.2,"v":0.53},{"s":"ATR-tri","f":259.2,"v":0.48},{"s":"ATR-tri","f":260,"v":0.46}
  ]},
  "resolve": {"axis": {"x": "independent", "y": "independent"}},
  "layer": [
    {
      "mark": {"type": "line", "strokeWidth": 1.3, "clip": true, "invalid": "break-paths-show-domains"},
      "encoding": {
        "x": {"field": "f", "type": "quantitative", "scale": {"domain": [100, 260], "nice": false, "zero": false}, "axis": {"title": "Frame", "values": [100, 120, 140, 160, 180, 200, 220, 240, 260], "labelPadding": 11, "titlePadding": 6}},
        "y": {"field": "v", "type": "quantitative", "scale": {"domain": [0.1, 1], "nice": false, "zero": false}, "axis": {"title": "Top 4 Confidence Score", "values": [0.1, 0.2, 0.3, 0.4, 0.5, 0.6, 0.7, 0.8, 0.9, 1], "format": "~g", "labelPadding": 11, "titlePadding": 10}},
        "color": {"field": "s", "type": "nominal",
          "scale": {"domain": ["JNAS-PTM", "ATR-PTM", "Senior-PTM", "Child-PTM", "JNAS-Tel-tri", "JNAS-tri", "ATR-tri"],
                    "range": ["#ff0000", "#00e000", "#0000ff", "#ff00ff", "#00ffff", "#ffa500", "#8fb88f"]},
          "legend": {"title": null, "orient": "top-right", "offset": 3, "padding": 7, "symbolType": "M-5,0L5,0", "symbolSize": 36, "symbolStrokeWidth": 1.5, "labelAlign": "right", "labelOffset": -30, "labelFontSize": 15, "labelFont": "Liberation Sans", "labelColor": "black", "rowPadding": 1.4, "labelLimit": 200}},
        "strokeDash": {"field": "s", "type": "nominal",
          "scale": {"domain": ["JNAS-PTM", "ATR-PTM", "Senior-PTM", "Child-PTM", "JNAS-Tel-tri", "JNAS-tri", "ATR-tri"],
                    "range": [[1, 0], [1.5, 2], [6, 4], [10, 5], [8, 3, 2, 3], [3, 3], [7, 3, 2, 3]]},
          "legend": {"title": null, "orient": "top-right", "offset": 3, "padding": 7, "symbolType": "M-5,0L5,0", "symbolSize": 36, "symbolStrokeWidth": 1.5, "labelAlign": "right", "labelOffset": -30, "labelFontSize": 15, "labelFont": "Liberation Sans", "labelColor": "black", "rowPadding": 1.4, "labelLimit": 200}}
      }
    },
    {
      "mark": {"type": "line", "opacity": 0},
      "encoding": {
        "x": {"field": "f", "type": "quantitative", "axis": {"orient": "top", "labels": false, "title": null, "values": [100, 120, 140, 160, 180, 200, 220, 240, 260]}},
        "y": {"field": "v", "type": "quantitative", "axis": {"orient": "right", "labels": false, "title": null, "values": [0.1, 0.2, 0.3, 0.4, 0.5, 0.6, 0.7, 0.8, 0.9, 1]}}
      }
    }
  ]
}
